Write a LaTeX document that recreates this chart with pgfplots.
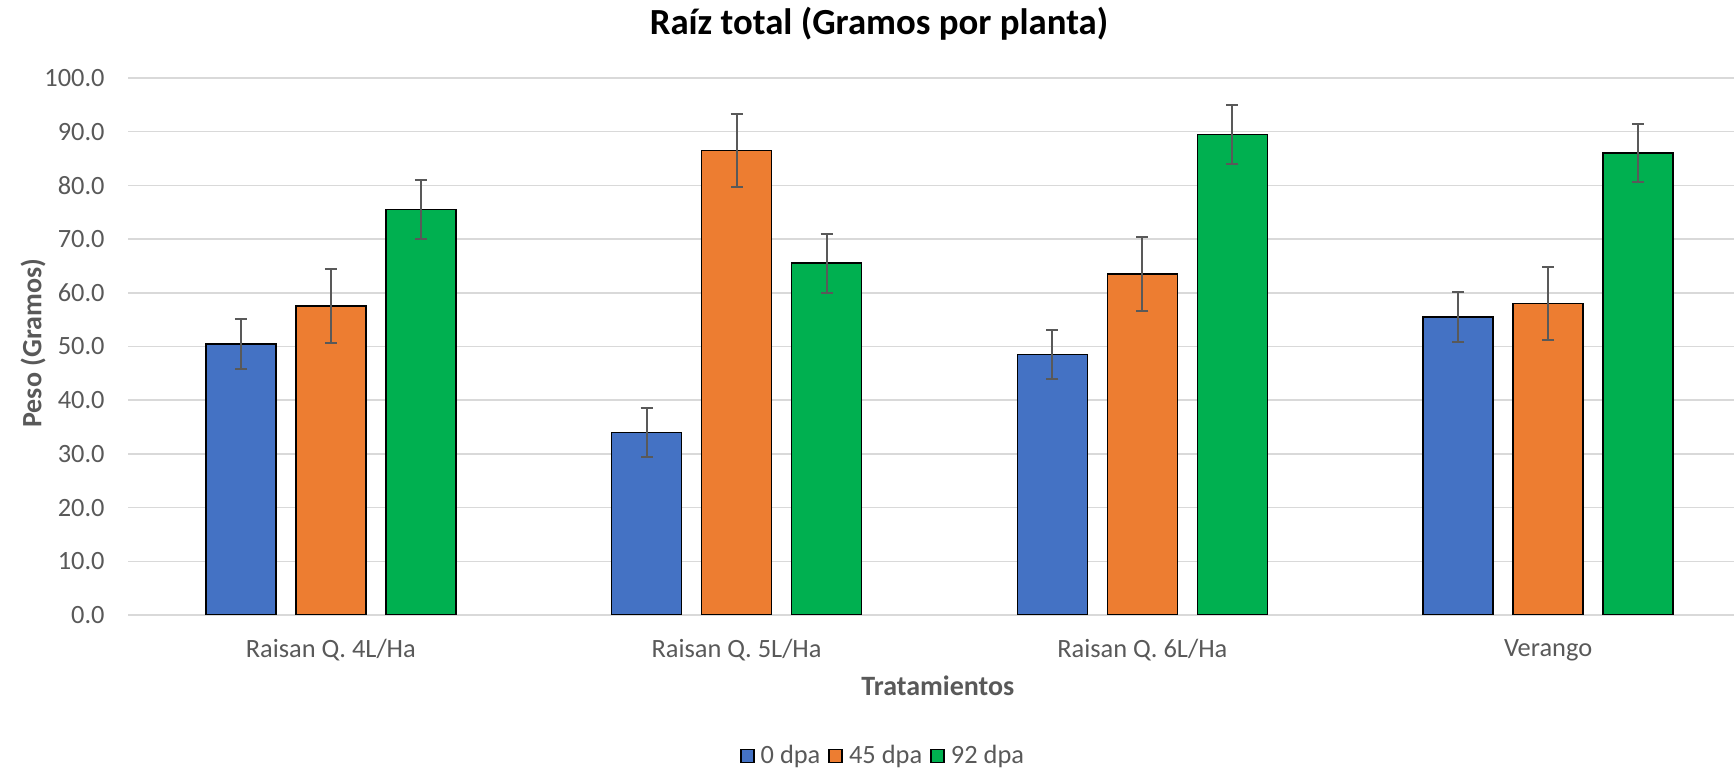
\documentclass[border=0pt]{standalone}
\usepackage{fontspec}
\setmainfont{Carlito}
\usepackage{pgfplots}
\usepackage{pgfplotstable}
\pgfplotsset{compat=1.18}
\definecolor{cblue}{HTML}{4472C4}
\definecolor{corange}{HTML}{ED7D31}
\definecolor{cgreen}{HTML}{00B050}
\definecolor{txtgray}{HTML}{595959}
\definecolor{gridgray}{HTML}{D9D9D9}

% columns: position, mean per series, error per series
\pgfplotstableread{
x  b     o     g     eb   eo    eg
0  50.5  57.5  75.5  4.6  6.85  5.45
1  34.0  86.5  65.5  4.6  6.85  5.45
2  48.5  63.5  89.5  4.6  6.85  5.45
3  55.5  58.0  86.0  4.6  6.85  5.45
}\raiz

\pgfplotsset{
  mybar/.style={draw=black, line width=0.85pt,
    legend image code/.code={\draw[##1, line width=0.85pt] (0pt,-3.25pt) rectangle (6.5pt,3.25pt); \path (7.5pt,0pt);},
    error bars/y dir=both, error bars/y explicit,
    error bars/error bar style={color=txtgray, line width=1pt},
    error bars/error mark=|,
    error bars/error mark options={color=txtgray, mark size=3pt, line width=1pt}},
}

\begin{document}
\begin{tikzpicture}
\useasboundingbox (0,0) rectangle (867pt,385pt);
\begin{axis}[
  at={(64pt,77.5pt)}, anchor=south west,
  scale only axis, width=811.5pt, height=268.5pt,
  ybar=10pt, bar width=35pt,
  xmin=-0.5, xmax=3.5, ymin=0, ymax=100,
  xtick={0,1,2,3},
  xticklabels={Raisan Q. 4L/Ha, Raisan Q. 5L/Ha, Raisan Q. 6L/Ha, Verango},
  ytick={0,10,...,100},
  axis line style={draw=none},
  major tick length=0pt,
  ymajorgrids, grid style={color=gridgray, line width=0.75pt},
  tick label style={font=\fontsize{13.2}{15}\selectfont, text=txtgray},
  yticklabel style={inner sep=0pt, anchor=east, xshift=-11.5pt,
    /pgf/number format/.cd, fixed, fixed zerofill, precision=1, assume math mode=true},
  xticklabel style={inner sep=0pt, anchor=north, yshift=-12pt},
  every axis title shift=0pt,
  title={Raíz total (Gramos por planta)},
  title style={font=\fontsize{18.4}{22}\selectfont\bfseries, text=black,
    at={(axis description cs:0.4627,1.1006)}, anchor=center},
  xlabel={Tratamientos},
  xlabel style={font=\fontsize{14}{17}\selectfont\bfseries, text=txtgray,
    at={(axis description cs:0.499,-0.132)}, anchor=center},
  ylabel={Peso (Gramos)},
  ylabel style={font=\fontsize{14}{17}\selectfont\bfseries, text=txtgray,
    at={(axis description cs:-0.0585,0.506)}, anchor=center, rotate=0},
  legend style={draw=none, fill=none, legend columns=3,
    font=\fontsize{13.2}{15}\selectfont, text=txtgray,
    at={(axis description cs:0.4658,-0.2626)}, anchor=center,
    /tikz/every even column/.append style={column sep=2pt},
    inner sep=0pt},
  legend cell align=left,
]
\addplot[mybar, fill=cblue] table[x=x, y=b, y error=eb] {\raiz};
\addplot[mybar, fill=corange] table[x=x, y=o, y error=eo] {\raiz};
\addplot[mybar, fill=cgreen] table[x=x, y=g, y error=eg] {\raiz};
\legend{0 dpa, 45 dpa, 92 dpa}
\end{axis}
\end{tikzpicture}
\end{document}
